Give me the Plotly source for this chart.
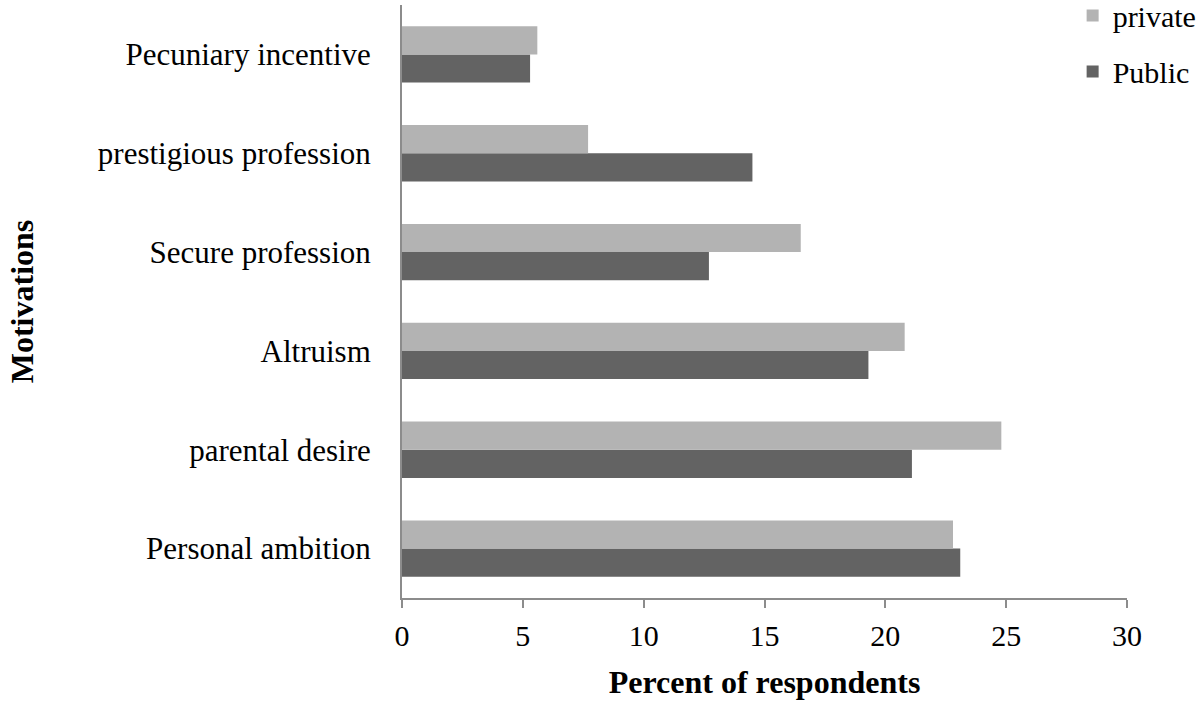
import plotly.graph_objects as go

categories = ["Personal ambition", "parental desire", "Altruism",
              "Secure profession", "prestigious profession", "Pecuniary incentive"]
public_vals = [23.1, 21.1, 19.3, 12.7, 14.5, 5.3]
private_vals = [22.8, 24.8, 20.8, 16.5, 7.7, 5.6]
x_ticks = [0, 5, 10, 15, 20, 25, 30]

FONT = "Liberation Serif"
AXIS_COLOR = "#8c8c8c"

fig = go.Figure()
fig.add_trace(go.Bar(y=categories, x=public_vals, orientation="h", name="Public",
                     marker=dict(color="#636363", line=dict(width=0)),
                     legendgroup="pub", legendrank=2))
fig.add_trace(go.Bar(y=categories, x=private_vals, orientation="h", name="private",
                     marker=dict(color="#b3b3b3", line=dict(width=0)),
                     legendgroup="priv", legendrank=1))

fig.update_layout(
    width=1200, height=702,
    margin=dict(l=402, r=73, t=5, b=104, autoexpand=False),
    paper_bgcolor="white", plot_bgcolor="white",
    barmode="group", bargap=0.43, bargroupgap=0,
    font=dict(family=FONT, size=30, color="black"),
    legend=dict(x=0.925, y=1.026, xref="paper", yref="paper",
                xanchor="left", yanchor="top",
                traceorder="grouped", tracegroupgap=14,
                font=dict(family=FONT, size=30), itemwidth=30,
                bgcolor="rgba(0,0,0,0)"),
    showlegend=True,
)
fig.update_xaxes(range=[0, 30], tickvals=x_ticks, showgrid=False, zeroline=False,
                 showline=True, linecolor=AXIS_COLOR, linewidth=2,
                 ticks="outside", ticklen=8, tickwidth=2, tickcolor=AXIS_COLOR,
                 ticklabelstandoff=2,
                 tickfont=dict(family=FONT, size=30),
                 title=dict(text="<b>Percent of respondents</b>", standoff=20,
                            font=dict(family=FONT, size=32)))
fig.update_yaxes(showgrid=False, zeroline=False, showline=True, linecolor=AXIS_COLOR,
                 linewidth=2, ticks="", ticklabelstandoff=23,
                 tickfont=dict(family=FONT, size=31),
                 title=dict(text="<b>Motivations</b>", standoff=55,
                            font=dict(family=FONT, size=32)))

fig.write_html("out.html", config={"displayModeBar": False},
               post_script="document.body.style.margin='0';")
